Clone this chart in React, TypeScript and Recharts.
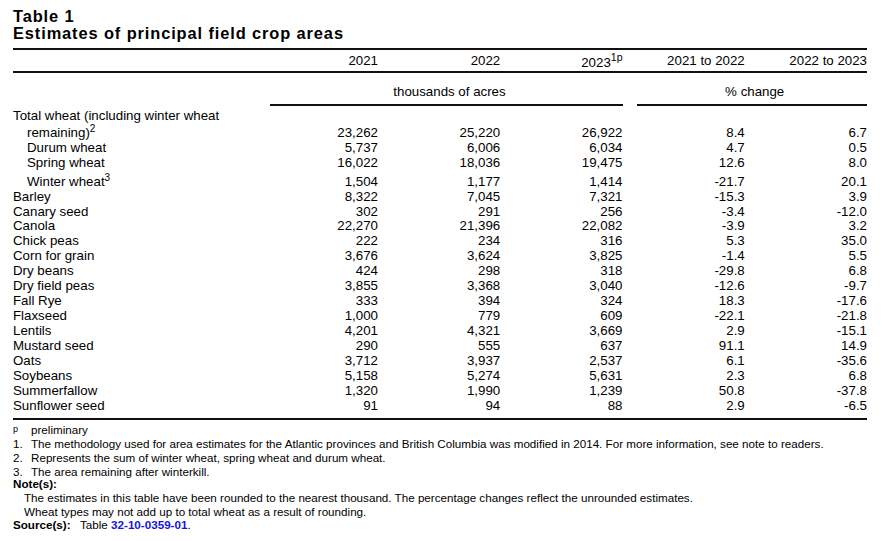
import React from 'react';
import {ScatterChart, Scatter, XAxis, YAxis, Customized} from 'recharts';

const FONT = "'Liberation Sans', Arial, sans-serif";

const crops = [
    'Total wheat (including winter wheat remaining)',
    'Durum wheat',
    'Spring wheat',
    'Winter wheat',
    'Barley',
    'Canary seed',
    'Canola',
    'Chick peas',
    'Corn for grain',
    'Dry beans',
    'Dry field peas',
    'Fall Rye',
    'Flaxseed',
    'Lentils',
    'Mustard seed',
    'Oats',
    'Soybeans',
    'Summerfallow',
    'Sunflower seed',
];
const cropNotes = ['2', '', '', '3', '', '', '', '', '', '', '', '', '', '', '', '', '', '', ''];
const wheatTypes = ['Durum wheat', 'Spring wheat', 'Winter wheat'];

const acres2021 = [23262, 5737, 16022, 1504, 8322, 302, 22270, 222, 3676, 424, 3855, 333, 1000, 4201, 290, 3712, 5158, 1320, 91];
const acres2022 = [25220, 6006, 18036, 1177, 7045, 291, 21396, 234, 3624, 298, 3368, 394, 779, 4321, 555, 3937, 5274, 1990, 94];
const acres2023 = [26922, 6034, 19475, 1414, 7321, 256, 22082, 316, 3825, 318, 3040, 324, 609, 3669, 637, 2537, 5631, 1239, 88];
const change2122 = [8.4, 4.7, 12.6, -21.7, -15.3, -3.4, -3.9, 5.3, -1.4, -29.8, -12.6, 18.3, -22.1, 2.9, 91.1, 6.1, 2.3, 50.8, 2.9];
const change2223 = [6.7, 0.5, 8.0, 20.1, 3.9, -12.0, 3.2, 35.0, 5.5, 6.8, -9.7, -17.6, -21.8, -15.1, 14.9, -35.6, 6.8, -37.8, -6.5];

const columnHeads = ['2021', '2022', '2023', '2021 to 2022', '2022 to 2023'];
const headNotes = ['', '', '1p', '', ''];

const footnotes = [
    'The methodology used for area estimates for the Atlantic provinces and British Columbia was modified in 2014. For more information, see note to readers.',
    'Represents the sum of winter wheat, spring wheat and durum wheat.',
    'The area remaining after winterkill.',
];
const notes = [
    'The estimates in this table have been rounded to the nearest thousand. The percentage changes reflect the unrounded estimates.',
    'Wheat types may not add up to total wheat as a result of rounding.',
];
const sourceTable = '32-10-0359-01';

// rows carrying a note reference sit a little lower
const rowPos: number[] = [];
crops.forEach((_, i) => {
    if (i === 0) rowPos.push(0);
    else rowPos.push(rowPos[i - 1] + 1 + (cropNotes[i] ? 0.25 : 0));
});

const columns = [acres2021, acres2022, acres2023, change2122, change2223];
const fmt = (c: number, v: number) => (c < 3 ? v.toLocaleString('en-US') : v.toFixed(1));

const seriesData = columns.map((col, c) =>
    col.map((v, i) => ({col: c, row: rowPos[i], value: v, text: fmt(c, v)}))
);

const wrap = (s: string, max: number) => {
    const lines: string[] = [];
    let cur = '';
    s.split(' ').forEach(w => {
        if (cur && (cur + ' ' + w).length > max) {
            lines.push(cur);
            cur = w;
        } else {
            cur = cur ? cur + ' ' + w : w;
        }
    });
    lines.push(cur);
    return lines;
};

const HeaderTick = (props: any) => {
    const {x, payload} = props;
    const c = payload.value;
    const note = headNotes[c];
    return (
        <text x={x} y={note ? 67 : 65} textAnchor="end" fontSize={13.3} fontFamily={FONT} fill="#000">
            {columnHeads[c]}
            {note ? <tspan fontSize={10.5} dy={-6}>{note}</tspan> : null}
        </text>
    );
};

const CropTick = (props: any) => {
    const {y, payload} = props;
    const i = rowPos.indexOf(payload.value);
    if (i < 0) return null;
    const sub = wheatTypes.includes(crops[i]);
    const lines = wrap(crops[i], 36);
    return (
        <g>
            {lines.map((ln, k) => {
                const last = k === lines.length - 1;
                return (
                    <text
                        key={k}
                        x={sub || k > 0 ? 27 : 13}
                        y={y - (lines.length - 1 - k) * 17.3}
                        fontSize={13.3}
                        fontFamily={FONT}
                        fill="#000"
                    >
                        {ln}
                        {last && cropNotes[i] ? <tspan fontSize={10} dy={-5}>{cropNotes[i]}</tspan> : null}
                    </text>
                );
            })}
        </g>
    );
};

const CellText = (props: any) => (
    <text x={props.cx} y={props.cy} textAnchor="end" fontSize={13.3} fontFamily={FONT} fill="#000">
        {props.payload.text}
    </text>
);

const Frame = () => {
    const fs = 11.65;
    return (
        <g fontFamily={FONT} fill="#000">
            <text x={13} y={21.5} fontSize={16.4} fontWeight="bold" textLength={60.5}>Table 1</text>
            <text x={13} y={38.5} fontSize={16.4} fontWeight="bold" textLength={330}>
                Estimates of principal field crop areas
            </text>

            <line x1={13} x2={867} y1={49} y2={49} stroke="#111" strokeWidth={2} />
            <line x1={13} x2={867} y1={72} y2={72} stroke="#111" strokeWidth={2} />
            <text x={449.5} y={96} fontSize={13.3} textAnchor="middle">thousands of acres</text>
            <text x={754.7} y={96} fontSize={13.3} textAnchor="middle">% change</text>
            <line x1={270} x2={623} y1={105} y2={105} stroke="#111" strokeWidth={2} />
            <line x1={637} x2={867} y1={105} y2={105} stroke="#111" strokeWidth={2} />
            <line x1={13} x2={867} y1={419} y2={419} stroke="#111" strokeWidth={2} />

            <text x={13} y={431.5} fontSize={9}>p</text>
            <text x={31} y={433.7} fontSize={fs}>preliminary</text>
            {footnotes.map((f, k) => (
                <g key={k}>
                    <text x={13} y={448.3 + k * 13.7} fontSize={fs}>{k + 1}.</text>
                    <text x={31} y={448.3 + k * 13.7} fontSize={fs}>{f}</text>
                </g>
            ))}
            <text x={13} y={488.3} fontSize={fs} fontWeight="bold">Note(s):</text>
            {notes.map((n, k) => (
                <text key={k} x={24} y={502.3 + k * 13.4} fontSize={fs}>{n}</text>
            ))}
            <text x={13} y={529} fontSize={fs}>
                <tspan fontWeight="bold">Source(s):</tspan>
                <tspan x={80}>Table </tspan>
                <tspan fontWeight="bold" fill="#1414e6">{sourceTable}</tspan>
                <tspan>.</tspan>
            </text>
        </g>
    );
};

const CropAreasTable = () => {
    return (
        <div style={{width: 884, height: 541, overflow: 'hidden', background: '#fff'}}>
            <style>{'body{margin:0;overflow:hidden;}'}</style>
            <ScatterChart width={884} height={541} margin={{top: 107, right: 17, bottom: 131, left: 0}}>
                <XAxis
                    xAxisId={0}
                    type="number"
                    dataKey="col"
                    orientation="top"
                    domain={[0, 4]}
                    ticks={[0, 1, 2, 3, 4]}
                    interval={0}
                    height={30}
                    axisLine={false}
                    tickLine={false}
                    tick={<HeaderTick />}
                />
                <YAxis
                    yAxisId={0}
                    type="number"
                    dataKey="row"
                    reversed
                    domain={[0, rowPos[rowPos.length - 1]]}
                    ticks={rowPos}
                    interval={0}
                    width={378}
                    axisLine={false}
                    tickLine={false}
                    tick={<CropTick />}
                />
                {seriesData.map((d, c) => (
                    <Scatter key={c} data={d} shape={<CellText />} isAnimationActive={false} />
                ))}
                <Customized component={<Frame />} />
            </ScatterChart>
        </div>
    );
};

export default CropAreasTable;
